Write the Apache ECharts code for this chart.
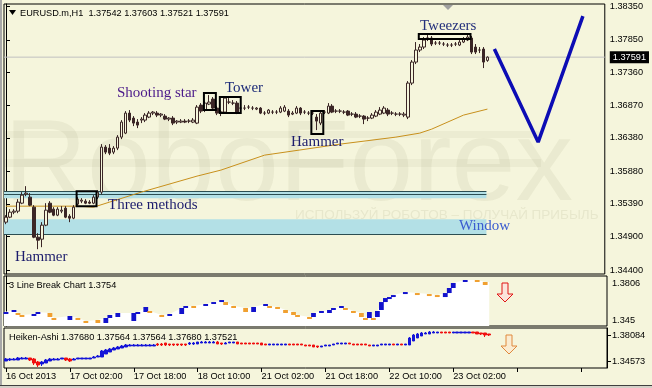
<!DOCTYPE html>
<html><head><meta charset="utf-8">
<script src="https://cdn.jsdelivr.net/npm/echarts@6/dist/echarts.min.js"></script>
<style>html,body{margin:0;padding:0;background:#f5f5dc}#c{width:652px;height:388px}</style>
</head><body><div id="c"></div><script>
// ---------- DATA ----------
// EURUSD.m H1 candles: [open, close, low, high]
const candles = [
[1.35117,1.35192,1.35087,1.35222],[1.35192,1.35267,1.35177,1.35312],[1.35267,1.35282,1.35237,1.35312],[1.35282,1.35417,1.35252,1.35462],[1.35402,1.35522,1.35387,1.35567],
[1.35537,1.35552,1.35507,1.35657],[1.35492,1.35372,1.35357,1.35552],[1.35342,1.34892,1.34877,1.35372],[1.34892,1.34847,1.34712,1.34952],[1.34862,1.35072,1.34742,1.35117],
[1.35072,1.35297,1.35057,1.35402],[1.35402,1.35267,1.35252,1.35432],[1.35312,1.35222,1.35207,1.35342],[1.35222,1.35312,1.35207,1.35342],[1.35282,1.35297,1.35252,1.35357],
[1.35327,1.35192,1.35177,1.35357],[1.35207,1.35177,1.35117,1.35237],[1.35177,1.35342,1.35162,1.35372],[1.35387,1.35462,1.35372,1.35492],[1.35432,1.35447,1.35402,1.35477],
[1.35432,1.35402,1.35387,1.35462],[1.35417,1.35402,1.35387,1.35447],[1.35402,1.35492,1.35387,1.35522],[1.35492,1.35567,1.35462,1.35597],[1.35567,1.36242,1.35537,1.36287],
[1.36242,1.36167,1.36137,1.36272],[1.36227,1.36152,1.36122,1.36287],[1.36167,1.36227,1.36137,1.36257],[1.36227,1.36392,1.36197,1.36422],[1.36392,1.36617,1.36362,1.36647],
[1.36452,1.36752,1.36437,1.36782],[1.36752,1.36647,1.36617,1.36797],[1.36677,1.36602,1.36557,1.36707],[1.36617,1.36572,1.36527,1.36662],[1.36647,1.36662,1.36602,1.36692],
[1.36647,1.36722,1.36617,1.36752],[1.36692,1.36752,1.36677,1.36782],[1.36752,1.36767,1.36722,1.36782],[1.36752,1.36722,1.36692,1.36782],[1.36722,1.36737,1.36692,1.36752],
[1.36707,1.36662,1.36647,1.36737],[1.36662,1.36677,1.36632,1.36692],[1.36677,1.36602,1.36572,1.36707],[1.36617,1.36632,1.36587,1.36647],[1.36617,1.36632,1.36602,1.36662],
[1.36632,1.36617,1.36602,1.36662],[1.36632,1.36632,1.36602,1.36662],[1.36617,1.36647,1.36602,1.36677],[1.36602,1.36842,1.36587,1.36872],[1.36872,1.36782,1.36752,1.36902],
[1.36797,1.36902,1.36767,1.36932],[1.36887,1.36917,1.36872,1.37022],[1.36962,1.36827,1.36797,1.36992],[1.36827,1.36752,1.36722,1.36857],[1.36767,1.36767,1.36707,1.36797],
[1.36767,1.36977,1.36752,1.36992],[1.36917,1.36917,1.36887,1.36977],[1.36902,1.36902,1.36872,1.36947],[1.36902,1.36752,1.36737,1.36932],[1.36827,1.36827,1.36797,1.36857],
[1.36827,1.36827,1.36797,1.36872],[1.36842,1.36842,1.36812,1.36872],[1.36827,1.36827,1.36797,1.36857],[1.36812,1.36827,1.36797,1.36842],[1.36827,1.36752,1.36737,1.36842],
[1.36752,1.36752,1.36722,1.36782],[1.36752,1.36797,1.36737,1.36812],[1.36767,1.36767,1.36737,1.36797],[1.36767,1.36767,1.36737,1.36797],[1.36767,1.36827,1.36752,1.36857],
[1.36782,1.36842,1.36767,1.36872],[1.36782,1.36722,1.36692,1.36812],[1.36737,1.36752,1.36722,1.36782],[1.36752,1.36827,1.36737,1.36857],[1.36827,1.36752,1.36722,1.36842],
[1.36767,1.36767,1.36737,1.36797],[1.36752,1.36752,1.36722,1.36782],[1.36752,1.36752,1.36722,1.36782],[1.36692,1.36632,1.36497,1.36737],[1.36602,1.36752,1.36572,1.36782],
[1.36767,1.36767,1.36737,1.36797],[1.36752,1.36857,1.36737,1.36902],[1.36857,1.36767,1.36752,1.36887],[1.36782,1.36782,1.36752,1.36812],[1.36782,1.36782,1.36752,1.36812],
[1.36767,1.36767,1.36737,1.36797],[1.36782,1.36722,1.36707,1.36797],[1.36737,1.36737,1.36707,1.36767],[1.36737,1.36692,1.36677,1.36767],[1.36707,1.36707,1.36677,1.36737],
[1.36707,1.36662,1.36587,1.36722],[1.36677,1.36677,1.36632,1.36707],[1.36677,1.36722,1.36662,1.36752],[1.36707,1.36767,1.36692,1.36797],[1.36737,1.36797,1.36722,1.36842],
[1.36752,1.36827,1.36737,1.36857],[1.36797,1.36737,1.36707,1.36827],[1.36752,1.36752,1.36722,1.36782],[1.36737,1.36737,1.36707,1.36767],[1.36737,1.36737,1.36707,1.36767],
[1.36722,1.36737,1.36692,1.36767],[1.36692,1.37202,1.36662,1.37232],[1.37202,1.37517,1.37172,1.37547],[1.37517,1.37697,1.37487,1.37817],[1.37697,1.37742,1.37667,1.37787],
[1.37742,1.37847,1.37712,1.37892],[1.37877,1.37877,1.37832,1.37922],[1.37877,1.37787,1.37757,1.37907],[1.37802,1.37802,1.37772,1.37832],[1.37802,1.37802,1.37772,1.37832],
[1.37787,1.37787,1.37757,1.37817],[1.37772,1.37772,1.37742,1.37802],[1.37772,1.37772,1.37742,1.37802],[1.37787,1.37787,1.37757,1.37817],[1.37772,1.37817,1.37757,1.37847],
[1.37817,1.37862,1.37802,1.37892],[1.37847,1.37892,1.37832,1.37922],[1.37877,1.37667,1.37637,1.37907],[1.37742,1.37667,1.37637,1.37787],[1.37697,1.37697,1.37652,1.37742],
[1.37712,1.37517,1.37427,1.37742],[1.37542,1.37591,1.37521,1.37603]
];
// moving average, sampled points [bar, price]
const maPoints = [[0,1.35357],[18,1.35357],[22,1.35342],[26,1.35417],[34,1.35567],[48,1.35807],[54,1.35897],[65,1.36122],[84,1.36287],[98,1.36392],[104,1.36452],[107,1.36512],[115,1.36722],[121,1.36812]];
// forecast V trend line [bar, price]
const trendV = [[122.75,1.37712],[133.75,1.36317],[145,1.38207]];
const lastPrice = 1.37591;
// support/resistance zones [fromBar, toBar, top, bottom]
const zones = [[-0.5,120.75,1.35582,1.35477],[-0.5,120.75,1.35162,1.34937]];
const zoneLines = [[-0.5,120.75,1.35582],[-0.5,120.75,1.35537],[-0.5,120.75,1.34937]];
// candle pattern boxes [fromBar, toBar, top, bottom]
const patternBoxes = [[17.75,22.75,1.35582,1.35357],[49.75,52.75,1.37052,1.36797],[53.75,59,1.36992,1.36752],[76.75,79.75,1.36782,1.36437],[103.75,116.75,1.37937,1.37862]];
// 3 Line Break blocks [bar, low, high, direction]
const lbBlocks = [
[0,1.35078,1.35271,1],[2,1.35271,1.35463,1],[3,1.34982,1.35174,-1],[4,1.34790,1.34982,-1],[7,1.34886,1.35078,1],[8,1.35078,1.35271,1],
[11,1.34790,1.35174,-1],[12,1.34501,1.34694,-1],[16,1.34501,1.34886,1],[18,1.34501,1.34694,-1],[20,1.34213,1.34405,-1],[23,1.34213,1.34501,-1],
[25,1.34213,1.34694,1],[26,1.34694,1.34982,1],[28,1.34790,1.35174,1],[32,1.34405,1.35174,1],[33,1.35078,1.35271,1],[35,1.35271,1.35752,1],
[36,1.35174,1.35367,-1],[39,1.34790,1.34982,-1],[41,1.34886,1.35078,1],[44,1.35078,1.35655,1],[45,1.35655,1.35845,1],[47,1.35655,1.35845,-1],
[50,1.35845,1.36037,1],[52,1.36037,1.36228,1],[54,1.36228,1.36420,1],[55,1.35941,1.36228,-1],[57,1.35655,1.35845,-1],[60,1.35271,1.35655,-1],
[62,1.35271,1.35752,1],[65,1.35845,1.36037,1],[66,1.35655,1.35845,-1],[68,1.35559,1.35752,-1],[70,1.35174,1.35463,-1],[72,1.34982,1.35271,-1],
[73,1.34790,1.34982,-1],[76,1.34597,1.34790,-1],[77,1.34790,1.35174,1],[79,1.35174,1.35367,1],[81,1.35174,1.35463,1],[82,1.35463,1.35655,1],
[84,1.35655,1.35845,1],[85,1.35463,1.35655,-1],[87,1.35174,1.35367,-1],[89,1.34790,1.35174,-1],[90,1.34501,1.34694,-1],[91,1.34694,1.35271,1],
[92,1.34501,1.34694,-1],[93,1.34790,1.35367,1],[94,1.35463,1.36228,1],[95,1.36228,1.36612,1],[96,1.36516,1.36709,1],[97,1.36709,1.36901,1],
[100,1.36997,1.37190,1],[103,1.36901,1.37094,-1],[106,1.36805,1.36997,-1],[108,1.36709,1.36901,-1],[110,1.36709,1.37094,1],[111,1.37094,1.37579,1],
[112,1.37579,1.38060,1],[115,1.38157,1.38349,1],[118,1.38157,1.38349,-1],[120,1.37868,1.38157,-1]
];
// Heiken-Ashi bars: [open, close, low, high]
const haData = [
[1.34574,1.34844,1.34574,1.34979],[1.34709,1.34844,1.34574,1.34979],[1.34709,1.34844,1.34709,1.34979],[1.34709,1.34979,1.34709,1.35114],[1.34844,1.34979,1.34844,1.35114],
[1.34844,1.34979,1.34844,1.35114],[1.34979,1.34709,1.34574,1.34979],[1.34844,1.34304,1.34034,1.34979],[1.34439,1.34034,1.33764,1.34574],[1.34169,1.34439,1.33899,1.34574],
[1.34304,1.34709,1.34304,1.34844],[1.34574,1.34844,1.34574,1.34979],[1.34709,1.34844,1.34709,1.34979],[1.34709,1.34844,1.34709,1.34979],[1.34844,1.34979,1.34844,1.34979],
[1.34979,1.34709,1.34574,1.34979],[1.34844,1.34574,1.34439,1.34979],[1.34709,1.34844,1.34709,1.34979],[1.34844,1.34979,1.34844,1.34979],[1.34844,1.34979,1.34844,1.34979],
[1.34844,1.34979,1.34844,1.34979],[1.34844,1.34979,1.34844,1.34979],[1.34979,1.35114,1.34979,1.35249],[1.35114,1.35249,1.35114,1.35384],[1.35114,1.35924,1.35114,1.36059],
[1.35519,1.36059,1.35519,1.36194],[1.35789,1.36194,1.35789,1.36329],[1.36059,1.36329,1.36059,1.36464],[1.36194,1.36464,1.36194,1.36599],[1.36329,1.36599,1.36329,1.36734],
[1.36464,1.36734,1.36464,1.36869],[1.36599,1.36734,1.36599,1.36869],[1.36599,1.36734,1.36599,1.36869],[1.36599,1.36734,1.36599,1.36869],[1.36599,1.36734,1.36599,1.36869],
[1.36599,1.36734,1.36599,1.36869],[1.36599,1.36734,1.36599,1.36869],[1.36599,1.36734,1.36599,1.36869],[1.36869,1.36734,1.36599,1.37004],[1.36869,1.36734,1.36599,1.37004],
[1.37004,1.36734,1.36599,1.37004],[1.36869,1.36734,1.36599,1.36869],[1.36869,1.36734,1.36599,1.36869],[1.36869,1.36734,1.36599,1.36869],[1.36869,1.36734,1.36599,1.36869],
[1.36869,1.36734,1.36599,1.36869],[1.36869,1.37004,1.36734,1.37139],[1.36869,1.37004,1.36734,1.37139],[1.36869,1.37139,1.36869,1.37139],[1.37004,1.37139,1.37004,1.37274],
[1.37004,1.37139,1.37004,1.37274],[1.37004,1.37139,1.37004,1.37274],[1.37004,1.37139,1.37004,1.37274],[1.37139,1.36869,1.36869,1.37274],[1.37004,1.36869,1.36734,1.37004],
[1.36869,1.37004,1.36869,1.37139],[1.37004,1.37139,1.37004,1.37139],[1.37004,1.37139,1.37004,1.37139],[1.37139,1.36869,1.36869,1.37139],[1.37004,1.36869,1.36869,1.37004],
[1.37004,1.36869,1.36869,1.37004],[1.37004,1.36869,1.36869,1.37004],[1.37004,1.36869,1.36869,1.37004],[1.37004,1.36869,1.36869,1.37004],[1.37004,1.36734,1.36734,1.37004],
[1.36869,1.36734,1.36734,1.36869],[1.36734,1.36869,1.36734,1.36869],[1.36734,1.36869,1.36734,1.36869],[1.36734,1.36869,1.36734,1.36869],[1.36734,1.36869,1.36734,1.36869],
[1.36734,1.36869,1.36734,1.36869],[1.36869,1.36734,1.36734,1.36869],[1.36869,1.36734,1.36734,1.36869],[1.36869,1.36734,1.36734,1.36869],[1.36869,1.36734,1.36734,1.36869],
[1.36734,1.36599,1.36599,1.36734],[1.36734,1.36599,1.36599,1.36734],[1.36734,1.36464,1.36464,1.36734],[1.36599,1.36464,1.36329,1.36599],[1.36464,1.36599,1.36464,1.36599],
[1.36599,1.36734,1.36599,1.36734],[1.36599,1.36734,1.36599,1.36734],[1.36734,1.36869,1.36734,1.36869],[1.36869,1.37004,1.36869,1.37004],[1.36869,1.37004,1.36869,1.37004],
[1.36869,1.37004,1.36869,1.37004],[1.37004,1.36869,1.36869,1.37004],[1.36869,1.36734,1.36734,1.36869],[1.36869,1.36734,1.36734,1.36869],[1.36869,1.36734,1.36734,1.36869],
[1.36869,1.36734,1.36734,1.36869],[1.36734,1.36599,1.36599,1.36734],[1.36599,1.36734,1.36599,1.36734],[1.36599,1.36734,1.36599,1.36734],[1.36734,1.36869,1.36734,1.36869],
[1.36734,1.36869,1.36734,1.36869],[1.36734,1.36869,1.36734,1.36869],[1.36869,1.36734,1.36734,1.36869],[1.36734,1.36869,1.36734,1.36869],[1.36869,1.36734,1.36734,1.36869],
[1.36734,1.36869,1.36734,1.36869],[1.36734,1.37679,1.36734,1.37814],[1.37274,1.38084,1.37274,1.38219],[1.37679,1.38219,1.37679,1.38354],[1.37949,1.38354,1.37949,1.38489],
[1.38219,1.38354,1.38219,1.38489],[1.38219,1.38489,1.38219,1.38624],[1.38354,1.38489,1.38354,1.38624],[1.38354,1.38489,1.38354,1.38489],[1.38489,1.38354,1.38354,1.38489],
[1.38489,1.38354,1.38354,1.38489],[1.38489,1.38354,1.38354,1.38489],[1.38354,1.38489,1.38354,1.38489],[1.38354,1.38489,1.38354,1.38489],[1.38354,1.38489,1.38354,1.38489],
[1.38354,1.38489,1.38354,1.38489],[1.38354,1.38489,1.38354,1.38489],[1.38489,1.38354,1.38354,1.38489],[1.38489,1.38219,1.38219,1.38489],[1.38354,1.38219,1.38084,1.38354],
[1.38354,1.38084,1.37814,1.38354],[1.38219,1.38084,1.37949,1.38219]
];
const mainTickLabels = ['1.34400','1.34900','1.35390','1.35880','1.36380','1.36870','1.37360','1.37850','1.38350'];
const lbTickLabels = ['1.345','1.3806'];
const haTickLabels = ['1.34573','1.38084'];
const timeLabels = ['16 Oct 2013','17 Oct 02:00','17 Oct 18:00','18 Oct 10:00','21 Oct 02:00','21 Oct 18:00','22 Oct 10:00','23 Oct 02:00'];
const titleText = 'EURUSD.m,H1  1.37542 1.37603 1.37521 1.37591';
const lbTitle = '3 Line Break Chart 1.3754';
const haTitle = 'Heiken-Ashi 1.37680 1.37564 1.37564 1.37680 1.37521';

// ---------- CHART ----------
const SLOTS = 151;
const categories = Array.from({length: SLOTS}, (_, i) => String(i));
const FONT = "'Liberation Sans', Arial, sans-serif";
const SERIF = "'Liberation Serif', 'Times New Roman', serif";
const BG = '#f5f5dc', DARK = '#3b2626';
const BLUE = '#1212cc', ORANGE = '#f0a030';
const GL = 4, GW = 603;

const mainTickVals = mainTickLabels.map(Number);
const lbTickVals = lbTickLabels.map(Number);
const haTickVals = haTickLabels.map(Number);

function rightAxis(grid, min, max, vals, labels, extra) {
  const allVals = extra != null ? vals.concat([extra]) : vals;
  return {
    gridIndex: grid, type: 'value', position: 'right', min, max, scale: true,
    splitLine: {show: false},
    axisLine: {show: true, lineStyle: {color: '#000', width: 1}},
    axisTick: {show: true, length: 4, customValues: vals, lineStyle: {color: '#000'}},
    axisLabel: {customValues: allVals, margin: 5, color: '#000', fontSize: 9.2, fontFamily: FONT,
      formatter: v => {
        if (extra != null && Math.abs(v - extra) < 1e-7) return '{cur|' + extra.toFixed(5) + '}';
        const s = labels.find(t => Math.abs(Number(t) - v) < 1e-7); return s || '';
      },
      rich: {cur: {color: '#fff', backgroundColor: '#000', padding: [2, 3, 1, 3], fontSize: 9.2, fontFamily: FONT}}
    }
  };
}

const areaPts = [[-0.5, lbBlocks[0][2]]].concat(lbBlocks.map(b => [b[0], b[2]]));
areaPts.push([lbBlocks[lbBlocks.length - 1][0] + 1, lbBlocks[lbBlocks.length - 1][2]]);

function rectFrom(api, x0, x1, yTop, yBot) {
  const a = api.coord([x0, yTop]), b = api.coord([x1, yBot]);
  return {x: a[0], y: a[1], width: b[0] - a[0], height: b[1] - a[1]};
}

const option = {
  backgroundColor: BG,
  animation: false,
  grid: [
    {left: GL, width: GW, top: 4, height: 270, show: true, borderColor: '#000', borderWidth: 1, backgroundColor: 'transparent'},
    {left: GL, width: GW, top: 276, height: 50, show: true, borderColor: '#000', borderWidth: 1, backgroundColor: 'transparent'},
    {left: GL, width: GW, top: 328, height: 40, show: true, borderColor: '#000', borderWidth: 1, backgroundColor: 'transparent'}
  ],
  xAxis: [
    {gridIndex: 0, type: 'category', data: categories, boundaryGap: true, show: false},
    {gridIndex: 0, type: 'value', min: -0.5, max: SLOTS - 0.5, show: false},
    {gridIndex: 1, type: 'value', min: -0.5, max: SLOTS - 0.5, show: false},
    {gridIndex: 2, type: 'category', data: categories, boundaryGap: true,
      axisLine: {show: false},
      axisTick: {show: true, alignWithLabel: true, interval: 15, length: 4, lineStyle: {color: '#000'}},
      axisLabel: {interval: 15, align: 'left', margin: 4, color: '#000', fontSize: 9.2, fontFamily: FONT,
        formatter: (v, idx) => timeLabels[idx / 16] || ''}
    }
  ],
  yAxis: [
    rightAxis(0, 1.3434, 1.383875, mainTickVals, mainTickLabels, lastPrice),
    rightAxis(1, 1.33923, 1.38733, lbTickVals, lbTickLabels),
    rightAxis(2, 1.33628, 1.39029, haTickVals, haTickLabels)
  ],
  series: [
    { // zones fill
      type: 'custom', xAxisIndex: 1, yAxisIndex: 0, z: 1, silent: true, data: zones,
      renderItem: (p, api) => ({type: 'rect', shape: rectFrom(api, api.value(0), api.value(1), api.value(2), api.value(3)), style: {fill: '#b3e0e6'}})
    },
    { // zone lines
      type: 'custom', xAxisIndex: 1, yAxisIndex: 0, z: 1, silent: true, data: zoneLines,
      renderItem: (p, api) => {
        const a = api.coord([api.value(0), api.value(2)]), b = api.coord([api.value(1), api.value(2)]);
        return {type: 'line', shape: {x1: a[0], y1: Math.round(a[1]) + 0.5, x2: b[0], y2: Math.round(a[1]) + 0.5}, style: {stroke: '#2c4e52', lineWidth: 1}};
      }
    },
    { // current price line
      type: 'line', xAxisIndex: 1, yAxisIndex: 0, z: 1, silent: true, symbol: 'none',
      data: [[-0.5, lastPrice], [SLOTS - 0.5, lastPrice]],
      lineStyle: {color: '#c0c0c0', width: 1}
    },
    { // moving average
      type: 'line', xAxisIndex: 1, yAxisIndex: 0, z: 2, data: maPoints, symbol: 'none', silent: true,
      lineStyle: {color: '#c8901c', width: 1}
    },
    { // candles
      type: 'candlestick', xAxisIndex: 0, yAxisIndex: 0, z: 3, data: candles, barWidth: 3, silent: true,
      itemStyle: {color: BG, color0: DARK, borderColor: DARK, borderColor0: DARK, borderWidth: 1}
    },
    { // pattern boxes
      type: 'custom', xAxisIndex: 1, yAxisIndex: 0, z: 4, silent: true, data: patternBoxes,
      renderItem: (p, api) => ({type: 'rect', shape: rectFrom(api, api.value(0), api.value(1), api.value(2), api.value(3)), style: {fill: 'none', stroke: '#000', lineWidth: 2}})
    },
    { // forecast V
      type: 'line', xAxisIndex: 1, yAxisIndex: 0, z: 5, data: trendV, symbol: 'none', silent: true,
      lineStyle: {color: '#0c0cb4', width: 3.5}
    },
    { // 3LB white area
      type: 'line', xAxisIndex: 2, yAxisIndex: 1, z: 1, data: areaPts, symbol: 'none', silent: true,
      lineStyle: {opacity: 0}, areaStyle: {color: '#ffffff', opacity: 1, origin: 'start'}
    },
    { // 3LB blocks
      type: 'custom', xAxisIndex: 2, yAxisIndex: 1, z: 2, silent: true, data: lbBlocks,
      renderItem: (p, api) => {
        const r = rectFrom(api, api.value(0) - 0.6, api.value(0) + 0.6, api.value(2), api.value(1));
        r.height = Math.max(1.5, r.height);
        return {type: 'rect', shape: r, style: {fill: api.value(3) > 0 ? BLUE : ORANGE}};
      }
    },
    { // Heiken-Ashi
      type: 'candlestick', xAxisIndex: 3, yAxisIndex: 2, z: 3, data: haData, barWidth: 3, silent: true,
      itemStyle: {color: '#1414d8', color0: '#f01010', borderColor: '#1414d8', borderColor0: '#f01010', borderWidth: 1}
    }
  ],
  graphic: [
    // frame
    {type: 'rect', shape: {x: 0, y: 0, width: 2, height: 388}, style: {fill: '#a8a8a8'}, z: 50, silent: true},
    {type: 'rect', shape: {x: 0, y: 385, width: 652, height: 1}, style: {fill: '#404040'}, z: 50, silent: true},
    {type: 'rect', shape: {x: 0, y: 386, width: 652, height: 2}, style: {fill: '#d4d0c8'}, z: 50, silent: true},
    // watermark
    {type: 'rect', shape: {x: 4, y: 131, width: 537, height: 7}, style: {fill: 'rgba(130,130,90,0.07)'}, z: 0, silent: true},
    {type: 'rect', shape: {x: 4, y: 159, width: 537, height: 8}, style: {fill: 'rgba(130,130,90,0.07)'}, z: 0, silent: true},
    {type: 'text', x: 4, y: 168, style: {text: 'RoboForex', font: "115px 'Liberation Sans', Arial, sans-serif", fill: 'rgba(130,130,90,0.09)', verticalAlign: 'middle', textVerticalAlign: 'middle'}, z: 0, silent: true},
    {type: 'text', x: 295, y: 215, style: {text: 'ИСПОЛЬЗУЙ РОБОТОВ – ПОЛУЧАЙ ПРИБЫЛЬ', font: "13.5px 'Liberation Sans', Arial, sans-serif", fill: 'rgba(130,130,90,0.12)', verticalAlign: 'middle', textVerticalAlign: 'middle'}, z: 0, silent: true},
    // header
    {type: 'polygon', shape: {points: [[9, 10], [16, 10], [12.5, 15]]}, style: {fill: '#000'}, z: 20, silent: true},
    {type: 'text', x: 20, y: 13, style: {text: titleText, font: "9.2px " + FONT, fill: '#000', verticalAlign: 'middle', textVerticalAlign: 'middle'}, z: 20, silent: true},
    {type: 'text', x: 9, y: 285, style: {text: lbTitle, font: "9.2px " + FONT, fill: '#000', verticalAlign: 'middle', textVerticalAlign: 'middle'}, z: 20, silent: true},
    {type: 'text', x: 9, y: 337, style: {text: haTitle, font: "9.2px " + FONT, fill: '#000', verticalAlign: 'middle', textVerticalAlign: 'middle'}, z: 20, silent: true},
    {type: 'polygon', shape: {points: [[443, 5], [453, 5], [448, 10]]}, style: {fill: '#a0a0a0'}, z: 20, silent: true},
    // pattern labels
    {type: 'text', x: 117, y: 93, style: {text: 'Shooting star', font: "15px " + SERIF, fill: '#4b1a8a', verticalAlign: 'middle', textVerticalAlign: 'middle'}, z: 20, silent: true},
    {type: 'text', x: 225, y: 88, style: {text: 'Tower', font: "15px " + SERIF, fill: '#1c2a78', verticalAlign: 'middle', textVerticalAlign: 'middle'}, z: 20, silent: true},
    {type: 'text', x: 291, y: 142, style: {text: 'Hammer', font: "15px " + SERIF, fill: '#1c1c6c', verticalAlign: 'middle', textVerticalAlign: 'middle'}, z: 20, silent: true},
    {type: 'text', x: 108, y: 205, style: {text: 'Three methods', font: "15px " + SERIF, fill: '#1c1c6c', verticalAlign: 'middle', textVerticalAlign: 'middle'}, z: 20, silent: true},
    {type: 'text', x: 15, y: 257, style: {text: 'Hammer', font: "15px " + SERIF, fill: '#1c1c6c', verticalAlign: 'middle', textVerticalAlign: 'middle'}, z: 20, silent: true},
    {type: 'text', x: 420, y: 26, style: {text: 'Tweezers', font: "15px " + SERIF, fill: '#24307c', verticalAlign: 'middle', textVerticalAlign: 'middle'}, z: 20, silent: true},
    {type: 'text', x: 459, y: 226, style: {text: 'Window', font: "15px " + SERIF, fill: '#3a5cd0', verticalAlign: 'middle', textVerticalAlign: 'middle'}, z: 20, silent: true},
    // signal arrows
    {type: 'polygon', shape: {points: [[502, 283], [508, 283], [508, 294], [513, 294], [505, 302], [497, 294], [502, 294]]},
      style: {fill: '#fbe4dc', stroke: '#e01414', lineWidth: 1}, z: 20, silent: true},
    {type: 'polygon', shape: {points: [[506, 335], [512, 335], [512, 346], [517, 346], [509, 354], [501, 346], [506, 346]]},
      style: {fill: '#faecd2', stroke: '#e0883c', lineWidth: 1}, z: 20, silent: true}
  ]
};
const chart = echarts.init(document.getElementById('c'), null, {renderer: 'canvas'});
chart.setOption(option);
</script></body></html>
